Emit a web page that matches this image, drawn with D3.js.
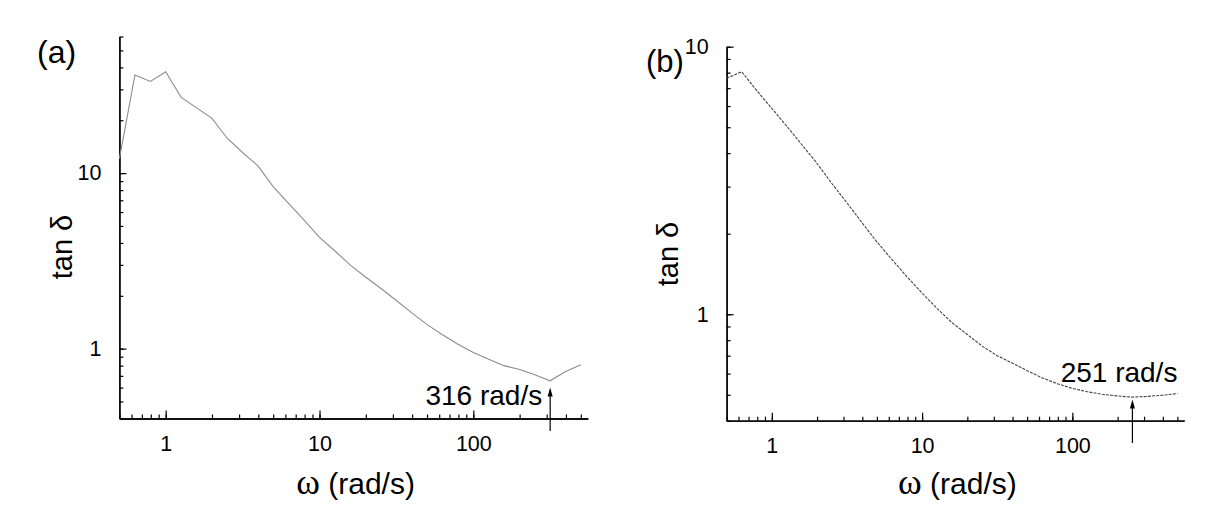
<!DOCTYPE html>
<html>
<head>
<meta charset="utf-8">
<script src="https://cdn.jsdelivr.net/npm/d3@7"></script>
<style>
  body { margin: 0; background: #fff; }
  text { font-family: "Liberation Sans", Arial, sans-serif; fill: #000; }
</style>
</head>
<body>
<script>
// frequency sweep, 10 points per decade
const omega = [0.5, 0.631, 0.794, 1, 1.26, 1.58, 2, 2.51, 3.16, 3.98,
               5.01, 6.31, 7.94, 10, 12.6, 15.8, 20, 25.1, 31.6, 39.8,
               50.1, 63.1, 79.4, 100, 126, 158, 200, 251, 316, 398, 501];

const tanDeltaA = [12.1, 36.2, 33.3, 37.8, 27.0, 23.6, 20.5, 15.8, 13.1, 11.0,
                   8.35, 6.7, 5.4, 4.3, 3.6, 3.0, 2.55, 2.2, 1.88, 1.6,
                   1.37, 1.2, 1.06, 0.95, 0.87, 0.8, 0.76, 0.71, 0.656, 0.74, 0.81];

const tanDeltaB = [7.62, 8.06, 6.85, 5.88, 5.04, 4.31, 3.66, 3.08, 2.61, 2.2,
                   1.86, 1.6, 1.38, 1.2, 1.05, 0.93, 0.84, 0.76, 0.7, 0.657,
                   0.615, 0.578, 0.55, 0.528, 0.513, 0.502, 0.495, 0.49, 0.493, 0.498, 0.505];

const xMajorTicks = [1, 10, 100];
const yMajorTicksA = [1, 10];
const yMajorTicksB = [1, 10];

const minOmegaA = 316;
const minOmegaB = 251;
const xLabel = 'ω';
const yLabel = 'tan δ';

const width = 1212, height = 529;

const svg = d3.select('body').append('svg')
  .attr('width', width)
  .attr('height', height);

svg.append('rect').attr('width', width).attr('height', height).attr('fill', '#fff');

const panels = [
  {
    name: '(a)', values: tanDeltaA, yMajor: yMajorTicksA,
    xRange: [119.4, 587.8], yRange: [418.5, 36.5], yDomain: [0.4, 60],
    stroke: '#8c8c8c', dash: null,
    labelPos: [37, 63], labelSize: 32, yTitleX: 72, yTitleY: 247,
    minOmega: minOmegaA, arrow: [0.34, 0.6],
    note: { dx: -8, y: 405 }
  },
  {
    name: '(b)', values: tanDeltaB, yMajor: yMajorTicksB,
    xRange: [726.6, 1184.2], yRange: [420.7, 46.7], yDomain: [0.4, 10],
    stroke: '#444', dash: '3 1.2',
    labelPos: [646, 72], labelSize: 31, yTitleX: 678, yTitleY: 254,
    minOmega: minOmegaB, arrow: [0.33, 0.48],
    note: { dx: 45, y: 382 }
  }
];

panels.forEach((p) => {
  const x = d3.scaleLog().domain([0.5, 555]).range(p.xRange);
  const y = d3.scaleLog().domain(p.yDomain).range(p.yRange);
  const g = svg.append('g');

  const y0 = p.yRange[0];
  const x0 = p.xRange[0];

  // minor ticks, all ticks the log scale gives
  g.append('g')
    .attr('transform', `translate(0,${y0})`)
    .call(d3.axisBottom(x).tickValues(x.ticks()).tickSize(-4).tickSizeOuter(0).tickFormat(''));
  g.append('g')
    .attr('transform', `translate(${x0},0)`)
    .call(d3.axisLeft(y).tickValues(y.ticks()).tickSize(-4).tickSizeOuter(0).tickFormat(''));

  // major ticks with labels
  g.append('g')
    .attr('transform', `translate(0,${y0})`)
    .call(d3.axisBottom(x).tickValues(xMajorTicks).tickSize(-8).tickSizeOuter(0)
      .tickPadding(17).tickFormat((d) => d));
  g.append('g')
    .attr('transform', `translate(${x0},0)`)
    .call(d3.axisLeft(y).tickValues(p.yMajor).tickSize(-7).tickSizeOuter(0)
      .tickPadding(18).tickFormat((d) => d));

  g.selectAll('.domain').attr('stroke', '#000').attr('stroke-width', 1.3);
  g.selectAll('.tick line').attr('stroke', '#000').attr('stroke-width', 1.2);
  g.selectAll('.tick text')
    .style('font-family', '"Liberation Sans", Arial, sans-serif')
    .style('font-size', '21.5px')
    .attr('fill', '#000');

  // curve
  const line = d3.line()
    .x((d, i) => x(omega[i]))
    .y((d) => y(d));
  g.append('path')
    .datum(p.values)
    .attr('fill', 'none')
    .attr('stroke', p.stroke)
    .attr('stroke-width', 1.1)
    .attr('stroke-dasharray', p.dash)
    .attr('d', line);

  // arrow at the minimum
  const ax = x(p.minOmega);
  const yBot = y(p.arrow[0]), yTip = y(p.arrow[1]);
  g.append('line')
    .attr('x1', ax).attr('x2', ax)
    .attr('y1', yBot).attr('y2', yTip + 3)
    .attr('stroke', '#000').attr('stroke-width', 1.2);
  g.append('path')
    .attr('d', `M${ax},${yTip} L${ax - 2.5},${yTip + 9} L${ax + 2.5},${yTip + 9} Z`)
    .attr('fill', '#000');

  g.append('text')
    .attr('x', ax + p.note.dx)
    .attr('y', p.note.y)
    .attr('text-anchor', 'end')
    .style('font-size', '28px')
    .text(`${p.minOmega} rad/s`);

  // panel label
  g.append('text')
    .attr('x', p.labelPos[0])
    .attr('y', p.labelPos[1])
    .style('font-size', `${p.labelSize}px`)
    .text(p.name);

  // axis titles
  const xt = g.append('text')
    .attr('x', (p.xRange[0] + p.xRange[1]) / 2 + 2)
    .attr('y', 494)
    .attr('text-anchor', 'middle')
    .style('font-size', '30px');
  xt.append('tspan')
    .style('font-family', '"Liberation Serif", "Times New Roman", serif')
    .style('font-size', '36px')
    .text(xLabel);
  xt.append('tspan').text(' (rad/s)');

  g.append('text')
    .attr('transform', `translate(${p.yTitleX},${p.yTitleY}) rotate(-90)`)
    .attr('text-anchor', 'middle')
    .style('font-size', '29px')
    .text(yLabel);
});
</script>
</body>
</html>
